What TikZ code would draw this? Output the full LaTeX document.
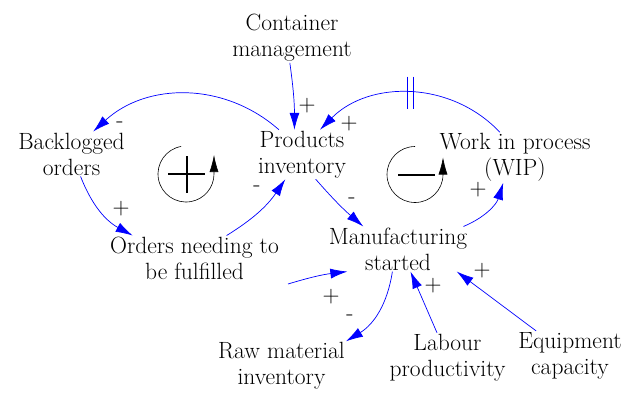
\documentclass[tikz,border=0pt]{standalone}
\usepackage{fontspec}
\usetikzlibrary{arrows.meta}

\begin{document}
\begin{tikzpicture}[x=1pt, y=-1pt,
  var/.style={align=center, inner sep=1pt, font=\fontsize{23.5}{26}\selectfont\addfontfeatures{FakeBold=0.4}},
  sign/.style={inner sep=0pt, font=\fontsize{23.5}{26}\selectfont\addfontfeatures{FakeBold=0.4}},
  link/.style={blue, line width=0.7pt, -{Latex[length=17pt,width=10pt]}},
  loopline/.style={black, line width=0.6pt, -{Latex[length=17pt,width=9pt]}}]

    \useasboundingbox (0,0) rectangle (626,392);

    % variables
    \node[var] (cm) at (292,38) {Container\\management};
    \node[var] (pinv) at (302,154.5) {Products\\inventory};
    \node[var] (bo) at (71.5,154) {Backlogged\\orders};
    \node[var] (wip) at (515,157.5) {Work in process\\(WIP)};
    \node[var] (ond) at (194.5,258) {Orders needing to\\be fulfilled};
    \node[var] (ms) at (398,249) {Manufacturing\\started};
    \node[var] (rm) at (281.5,366) {Raw material\\inventory};
    \node[var] (lp) at (447.5,357.5) {Labour\\productivity};
    \node[var] (ec) at (570,355.5) {Equipment\\capacity};
    \coordinate (free) at (288,284);

    % links
    \draw[link] (pinv.133) to[bend right=42] (bo.46);
    \draw[link] (cm.265) to[bend left=4] (pinv.107);
    \draw[link] (wip.121) to[bend right=46]
        node[pos=0.5, inner sep=0pt, minimum width=5pt, minimum height=32pt] (dl) {} (pinv.54);
    \draw[blue, line width=0.8pt] (dl.north west) -- (dl.south west) (dl.north east) -- (dl.south east);
    \draw[link] (bo.292) to[bend right=20] (ond.160);
    \draw[link] (ond.35) to[bend right=12] (pinv.236);
    \draw[link] (pinv.299) to[bend right=4] (ms.147);
    \draw[link] (ms.19) to[bend right=25] (wip.245);
    \draw[link] (free) to[bend left=5] (ms.204);
    \draw[link] (ms.256) to[bend left=25] (rm.north east);
    \draw[link] (lp.113) -- (ms.299);
    \draw[link] (ec.144) -- (ms.339);

    % polarities
    \node[sign] (pol1) at (120,125) {-};
    \node[sign] (pol2) at (307,106) {+};
    \node[sign] (pol3) at (349,124) {+};
    \node[sign] (pol4) at (121,209) {+};
    \node[sign] (pol5) at (257,189) {-};
    \node[sign] (pol6) at (352,201) {-};
    \node[sign] (pol7) at (478,190) {+};
    \node[sign] (pol8) at (331,297) {+};
    \node[sign] (pol9) at (350,318) {-};
    \node[sign] (pol10) at (433,286) {+};
    \node[sign] (pol11) at (482,271) {+};

    % loops
    \coordinate (rloop) at (186,174);
    \draw[loopline] (rloop) ++(-100:28) arc[start angle=-100, end angle=-360, radius=28] -- ++(0,-19);
    \draw[line width=1.6pt] (rloop) ++(-18,0) -- ++(37,0) (rloop) ++(1,-18) -- ++(0,37);
    \coordinate (bloop) at (415,174.5);
    \draw[loopline] (bloop) ++(-90:28) arc[start angle=-90, end angle=-360, radius=28] -- ++(0,-17);
    \draw[line width=2pt] (bloop) ++(-17,0.5) -- ++(37,0);

\end{tikzpicture}
\end{document}
